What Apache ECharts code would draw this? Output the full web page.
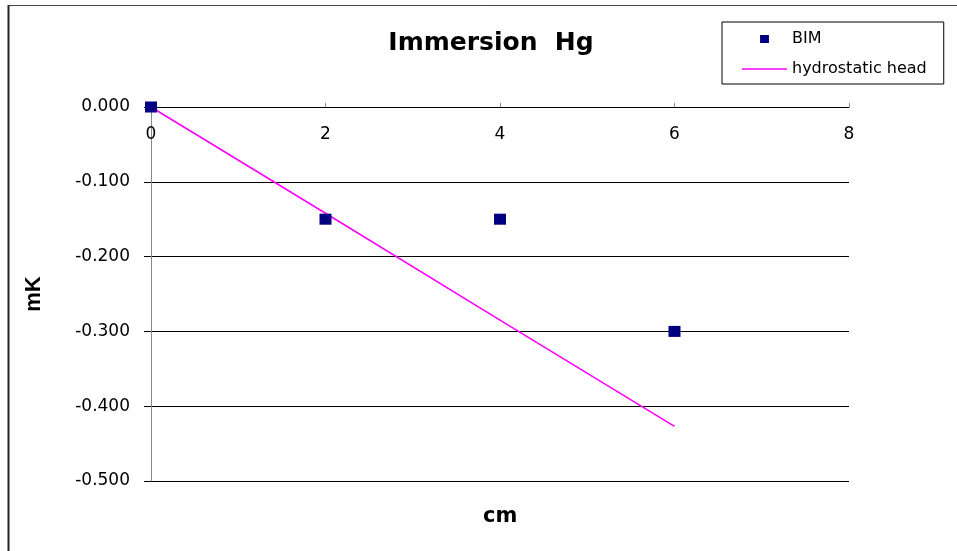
<!DOCTYPE html>
<html>
<head>
<meta charset="utf-8">
<script src="https://cdn.jsdelivr.net/npm/echarts@6/dist/echarts.min.js"></script>
<style>html,body{margin:0;padding:0;background:#fff}#c{width:957px;height:551px}</style>
</head>
<body>
<div id="c"></div>
<script>
var titleText = 'Immersion  Hg';
var xName = 'cm';
var yName = 'mK';
var bimX = [0, 2, 4, 6];
var bimY = [0, -0.15, -0.15, -0.30];
var headX = [0, 2, 4, 6];
var headY = [0, -0.142, -0.285, -0.427];
var xTicks = [0, 2, 4, 6, 8];
var yTicks = [0, -0.1, -0.2, -0.3, -0.4, -0.5];

var chart = echarts.init(document.getElementById('c'));
var font = 'DejaVu Sans, Verdana, sans-serif';
chart.setOption({
  animation: false,
  backgroundColor: '#fff',
  title: {
    text: titleText, left: 486, top: 26, textAlign: 'center',
    textStyle: {fontFamily: font, fontSize: 25, fontWeight: 'bold', color: '#000'}
  },
  legend: {
    orient: 'vertical', left: 722, top: 22,
    borderColor: '#000', borderWidth: 1, borderRadius: 0,
    padding: [9, 17, 7, 20], itemGap: 14,
    itemWidth: 45, itemHeight: 8,
    symbolKeepAspect: true,
    textStyle: {fontFamily: font, fontSize: 16, lineHeight: 16, color: '#000'},
    data: [
      {name: 'BIM', icon: 'path://M0,0L1,0L1,0.9L0,0.9Z', itemStyle: {color: '#000080'}},
      {name: 'hydrostatic head', icon: 'path://M0,0L45,0L45,1.3L0,1.3Z', itemStyle: {color: '#FF00FF'}}
    ]
  },
  grid: {left: 151, top: 107, right: 108, bottom: 70},
  xAxis: {
    type: 'value', position: 'top', min: xTicks[0], max: xTicks[xTicks.length-1], interval: 2,
    axisLine: {show: true, onZero: false, lineStyle: {color: '#000', width: 1}},
    axisTick: {show: true, inside: false, length: 4, lineStyle: {color: '#888'}},
    axisLabel: {inside: true, margin: 19, fontFamily: font, fontSize: 17, color: '#000'},
    splitLine: {show: false}
  },
  yAxis: {
    type: 'value', min: yTicks[yTicks.length-1], max: yTicks[0], interval: 0.1,
    name: yName, nameLocation: 'middle', nameGap: 106, nameRotate: 90,
    nameTextStyle: {fontFamily: 'Liberation Sans, Arial, sans-serif', fontSize: 22, fontWeight: 'bold', color: '#000'},
    axisLine: {show: true, lineStyle: {color: '#888', width: 1}},
    axisTick: {show: true, inside: false, length: 7, lineStyle: {color: '#000'}},
    axisLabel: {margin: 21, fontFamily: font, fontSize: 17, color: '#000',
      formatter: function (v) { return v.toFixed(3); }},
    splitLine: {show: true, lineStyle: {color: '#000', width: 1}}
  },
  graphic: [
    {type: 'text', left: 483, top: 506,
      style: {text: xName, fontFamily: font, fontSize: 21, fontWeight: 'bold', fill: '#000'}},
    {type: 'line', shape: {x1: 8, y1: 5.5, x2: 957, y2: 5.5}, style: {stroke: '#444', lineWidth: 1}},
    {type: 'line', shape: {x1: 8.5, y1: 5, x2: 8.5, y2: 551}, style: {stroke: '#222', lineWidth: 2}}
  ],
  series: [
    {
      name: 'BIM', type: 'scatter', symbol: 'rect', symbolSize: [12, 11],
      itemStyle: {color: '#000080', opacity: 1},
      data: bimX.map(function (x, i) { return [x, bimY[i]]; }),
      z: 3
    },
    {
      name: 'hydrostatic head', type: 'line', symbol: 'none', showSymbol: false,
      lineStyle: {color: '#FF00FF', width: 1.6}, itemStyle: {color: '#FF00FF'},
      data: headX.map(function (x, i) { return [x, headY[i]]; }),
      z: 2
    }
  ]
});
</script>
</body>
</html>
